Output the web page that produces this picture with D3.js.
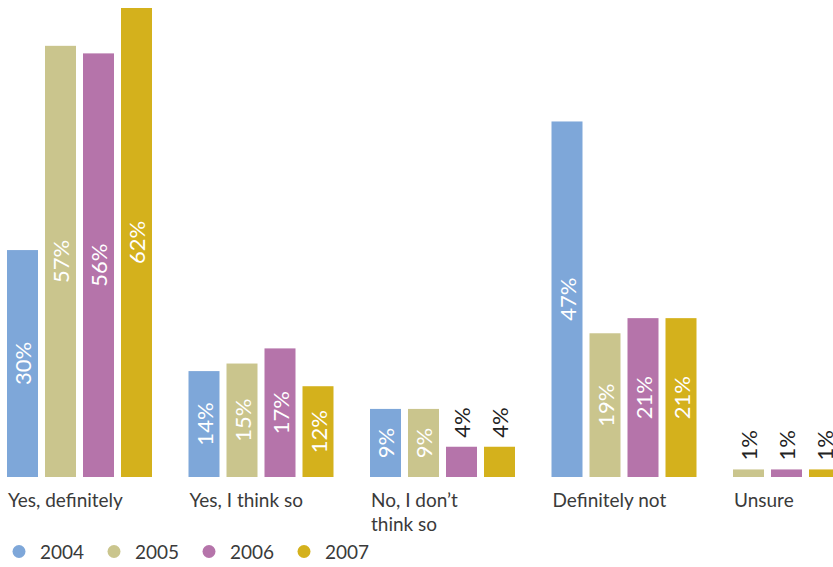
<!DOCTYPE html>
<html>
<head>
<meta charset="utf-8">
<script src="https://cdn.jsdelivr.net/npm/d3@7"></script>
<style>
  html, body { margin: 0; padding: 0; background: #fff; }
  svg { display: block; font-family: Lato, "Open Sans", sans-serif; }
</style>
</head>
<body>
<svg id="chart" width="833" height="567"></svg>
<script>
// Survey answers by year (percent of respondents)
const categories = ["Yes, definitely", "Yes, I think so", "No, I don't think so", "Definitely not", "Unsure"];
const categoryLines = [["Yes, definitely"], ["Yes, I think so"], ["No, I don\u2019t", "think so"], ["Definitely not"], ["Unsure"]];
const years = ["2004", "2005", "2006", "2007"];
const values2004 = [30, 14, 9, 47, null];
const values2005 = [57, 15, 9, 19, 1];
const values2006 = [56, 17, 4, 21, 1];
const values2007 = [62, 12, 4, 21, 1];

const seriesValues = [values2004, values2005, values2006, values2007];
const colors = ["#7ea7d9", "#cac58d", "#b574aa", "#d4b11c"];

const svg = d3.select("#chart");
const baseline = 477;

const x0 = d3.scaleBand()
  .domain(categories)
  .range([7, 7 + categories.length * 181.5])
  .paddingInner(0).paddingOuter(0).align(0);

const y = d3.scaleLinear().domain([0, 62]).range([baseline, 8]);

const color = d3.scaleOrdinal().domain(years).range(colors);

// one entry per category, keeping only years that have an answer
const groups = categories.map((c, i) => ({
  category: c,
  lines: categoryLines[i],
  bars: years.map((yr, j) => ({ year: yr, value: seriesValues[j][i] }))
             .filter(d => d.value != null)
}));

const g = svg.selectAll("g.group").data(groups).join("g")
  .attr("class", "group")
  .attr("transform", d => `translate(${x0(d.category)},0)`);

g.each(function (grp) {
  const x1 = d3.scaleBand()
    .domain(grp.bars.map(b => b.year))
    .range([0, 38 * grp.bars.length - 7])
    .paddingInner(7 / 38).paddingOuter(0);
  const sel = d3.select(this);

  sel.selectAll("rect").data(grp.bars).join("rect")
    .attr("x", d => x1(d.year))
    .attr("y", d => y(d.value))
    .attr("width", x1.bandwidth())
    .attr("height", d => baseline - y(d.value))
    .attr("fill", d => color(d.year));

  sel.selectAll("text.val").data(grp.bars).join("text")
    .attr("class", "val")
    .each(function (d) {
      const h = baseline - y(d.value);
      const inside = h > 45;
      const cx = x1(d.year) + x1.bandwidth() / 2;
      const t = d3.select(this)
        .attr("font-size", 22)
        .attr("dominant-baseline", "central")
        .text(d.value + "%");
      if (inside) {
        const cy = y(d.value) + h / 2;
        t.attr("fill", "#fff").attr("text-anchor", "middle")
         .attr("transform", `translate(${cx},${cy}) rotate(-90)`);
      } else {
        t.attr("fill", "#222").attr("text-anchor", "start")
         .attr("transform", `translate(${cx},${y(d.value) - 9}) rotate(-90)`);
      }
    });

  sel.append("text")
    .attr("class", "cat")
    .attr("x", 1)
    .attr("y", 507)
    .attr("font-size", 19)
    .attr("fill", "#3a3a3a")
    .selectAll("tspan").data(grp.lines).join("tspan")
      .attr("x", 1)
      .attr("dy", (d, i) => i === 0 ? 0 : 24)
      .text(d => d);
});

// legend
const legend = svg.append("g").attr("class", "legend");
const li = legend.selectAll("g").data(years).join("g")
  .attr("transform", (d, i) => `translate(${40 + i * 95},0)`);
li.append("circle").attr("cx", -21).attr("cy", 551.5).attr("r", 6.5).attr("fill", d => color(d));
li.append("text").attr("x", 0).attr("y", 558.5).attr("font-size", 19).attr("fill", "#3a3a3a").text(d => d);
</script>
</body>
</html>
